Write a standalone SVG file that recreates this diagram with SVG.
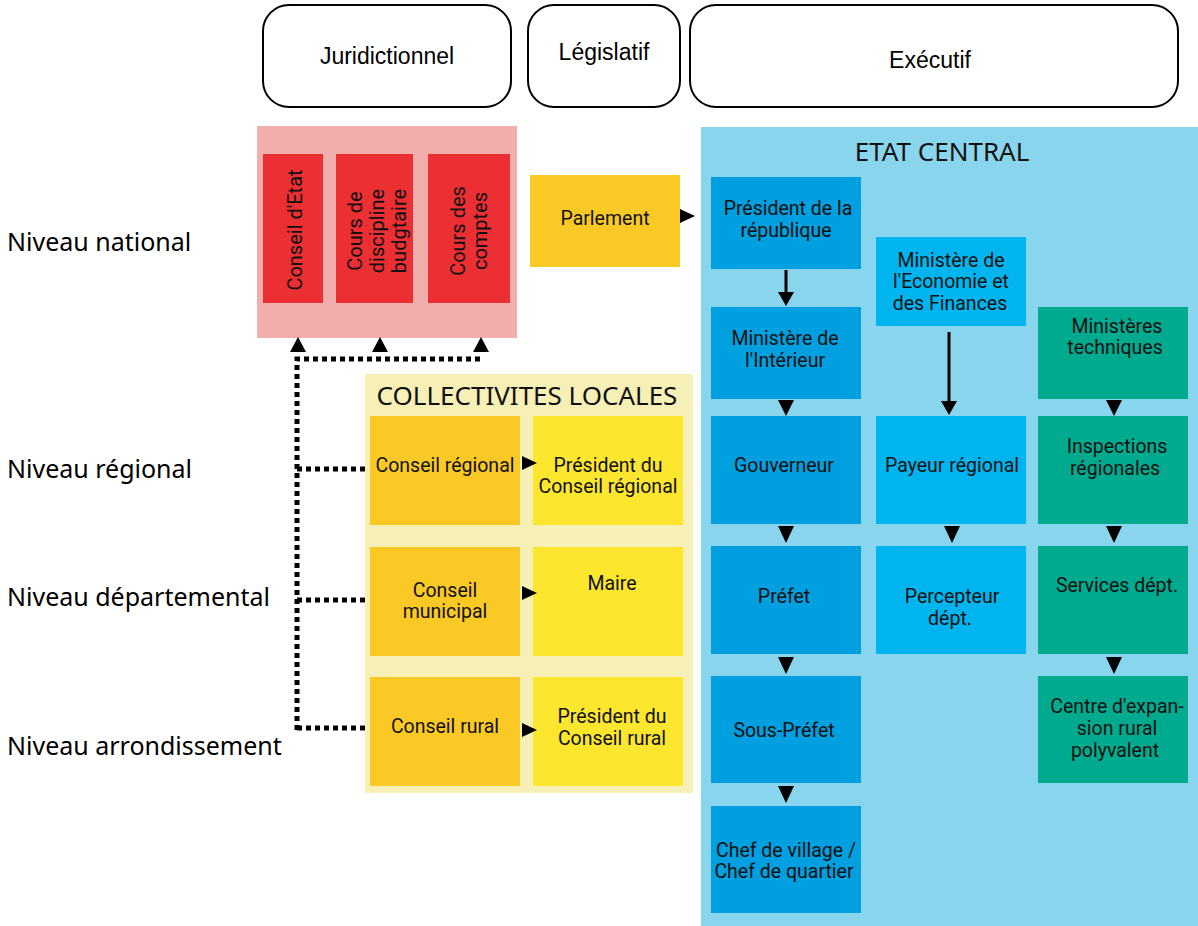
<svg xmlns="http://www.w3.org/2000/svg" width="1198" height="926" viewBox="0 0 1198 926">
<style>
.hdr{fill:#fff;stroke:#000;stroke-width:2}
.ht{font-family:"Liberation Sans",Arial,sans-serif;font-size:23px;fill:#000;text-anchor:middle}
.lvl{font-family:"Noto Sans",sans-serif;font-size:25px;fill:#000}
.ttl{font-family:"Noto Sans",sans-serif;font-size:26px;fill:#111;text-anchor:middle}
.bt{font-family:Roboto,"Noto Sans",sans-serif;font-size:19.5px;fill:#111;text-anchor:middle}
.rt{font-family:Roboto,"Noto Sans",sans-serif;font-size:20px;fill:#111;text-anchor:middle}
.red{fill:#EB2F33}
.ora{fill:#FBC926}
.yel{fill:#FCE62E}
.b1{fill:#009FDF}
.b2{fill:#00B5EF}
.gr{fill:#00AA8E}
.dot{fill:none;stroke:#000;stroke-width:5;stroke-dasharray:5 4}
.tri{fill:#000}
</style>

<!-- header -->
<g id="h-jur"><rect class="hdr" x="263" y="5" width="248" height="102" rx="26"/><text class="ht" x="387" y="64">Juridictionnel</text></g>
<g id="h-leg"><rect class="hdr" x="528" y="5" width="152" height="102" rx="26"/><text class="ht" x="604" y="60">Législatif</text></g>
<g id="h-exe"><rect class="hdr" x="690" y="5" width="488" height="102" rx="26"/><text class="ht" x="930" y="68">Exécutif</text></g>

<!-- level labels -->
<g id="levels">
<text class="lvl" x="7" y="251">Niveau national</text>
<text class="lvl" x="7" y="478">Niveau régional</text>
<text class="lvl" x="7" y="606">Niveau départemental</text>
<text class="lvl" x="7" y="755">Niveau arrondissement</text>
</g>

<!-- backgrounds -->
<rect id="bg-jur" x="257" y="126" width="260" height="212" fill="#F2ADAD"/>
<g id="bg-coll"><rect x="365" y="374" width="328" height="419" fill="#F7F0B6"/><text class="ttl" x="527" y="405">COLLECTIVITES LOCALES</text></g>
<g id="bg-etat"><rect x="701" y="127" width="497" height="799" fill="#8AD5EE"/><text class="ttl" x="942" y="161">ETAT CENTRAL</text></g>

<!-- juridictionnel nodes -->
<g id="n-ce"><rect class="red" x="263" y="154" width="60" height="149"/><text class="rt" transform="rotate(-90 302 230)" x="302" y="230">Conseil d'Etat</text></g>
<g id="n-cdb"><rect class="red" x="336" y="154" width="77" height="149"/><text class="rt" transform="rotate(-90 384 231)" x="384" y="231"><tspan x="384" dy="-22">Cours de</tspan><tspan x="384" dy="22">discipline</tspan><tspan x="384" dy="22">budgtaire</tspan></text></g>
<g id="n-cdc"><rect class="red" x="428" y="154" width="82" height="149"/><text class="rt" transform="rotate(-90 476 231)" x="476" y="231"><tspan x="476" dy="-11">Cours des</tspan><tspan x="476" dy="22">comptes</tspan></text></g>

<!-- legislatif -->
<g id="n-parl"><rect class="ora" x="530" y="175" width="150" height="92"/><text class="bt" x="605" y="225">Parlement</text></g>

<!-- collectivites -->
<g id="n-creg"><rect class="ora" x="370" y="416" width="150" height="109"/><text class="bt" x="445" y="472">Conseil régional</text></g>
<g id="n-pcreg"><rect class="yel" x="533" y="416" width="150" height="109"/><text class="bt" x="608" y="472">Président du<tspan x="608" dy="21">Conseil régional</tspan></text></g>
<g id="n-cmun"><rect class="ora" x="370" y="547" width="150" height="109"/><text class="bt" x="445" y="597">Conseil<tspan x="445" dy="21">municipal</tspan></text></g>
<g id="n-maire"><rect class="yel" x="533" y="547" width="150" height="109"/><text class="bt" x="612" y="590">Maire</text></g>
<g id="n-crur"><rect class="ora" x="370" y="677" width="150" height="109"/><text class="bt" x="445" y="733">Conseil rural</text></g>
<g id="n-pcrur"><rect class="yel" x="533" y="677" width="150" height="109"/><text class="bt" x="612" y="723">Président du<tspan x="612" dy="22">Conseil rural</tspan></text></g>

<!-- etat central col 1 -->
<g id="n-pr"><rect class="b1" x="711" y="177" width="150" height="92"/><text class="bt" x="788" y="215">Président de la<tspan x="786" dy="22">république</tspan></text></g>
<g id="n-mi"><rect class="b1" x="711" y="307" width="150" height="92"/><text class="bt" x="785" y="345">Ministère de<tspan x="785" dy="22">l'Intérieur</tspan></text></g>
<g id="n-gouv"><rect class="b1" x="711" y="416" width="150" height="108"/><text class="bt" x="784" y="472">Gouverneur</text></g>
<g id="n-pref"><rect class="b1" x="711" y="546" width="150" height="108"/><text class="bt" x="784" y="603">Préfet</text></g>
<g id="n-spref"><rect class="b1" x="711" y="676" width="150" height="107"/><text class="bt" x="784" y="737">Sous-Préfet</text></g>
<g id="n-chef"><rect class="b1" x="711" y="806" width="150" height="107"/><text class="bt" x="786" y="857">Chef de village /<tspan x="784" dy="21">Chef de quartier</tspan></text></g>

<!-- col 2 -->
<g id="n-mef"><rect class="b2" x="876" y="237" width="150" height="89"/><text class="bt" x="951" y="267">Ministère de<tspan x="951" dy="21">l'Economie et</tspan><tspan x="950" dy="22">des Finances</tspan></text></g>
<g id="n-pay"><rect class="b2" x="876" y="416" width="150" height="108"/><text class="bt" x="952" y="472">Payeur régional</text></g>
<g id="n-perc"><rect class="b2" x="876" y="546" width="150" height="108"/><text class="bt" x="952" y="603">Percepteur<tspan x="950" dy="22">dépt.</tspan></text></g>

<!-- col 3 -->
<g id="n-mt"><rect class="gr" x="1038" y="307" width="150" height="92"/><text class="bt" x="1117" y="333">Ministères<tspan x="1115" dy="21">techniques</tspan></text></g>
<g id="n-insp"><rect class="gr" x="1038" y="416" width="150" height="108"/><text class="bt" x="1117" y="453">Inspections<tspan x="1115" dy="22">régionales</tspan></text></g>
<g id="n-serv"><rect class="gr" x="1038" y="546" width="150" height="108"/><text class="bt" x="1117" y="592">Services dépt.</text></g>
<g id="n-cerp"><rect class="gr" x="1038" y="676" width="150" height="107"/><text class="bt" x="1117" y="713">Centre d'expan-<tspan x="1117" dy="22">sion rural</tspan><tspan x="1115" dy="22">polyvalent</tspan></text></g>

<!-- connectors -->
<g id="connectors">
<path class="dot" d="M297 730 V359 H484"/>
<path class="dot" d="M297 469 H365 M297 600 H365 M297 728 H365"/>
<polygon class="tri" points="290,352 306,352 298,337"/>
<polygon class="tri" points="372,352 388,352 380,337"/>
<polygon class="tri" points="473,352 489,352 481,337"/>
<polygon class="tri" points="522,456 537,463 522,470"/>
<polygon class="tri" points="522,586 537,593 522,600"/>
<polygon class="tri" points="522,723 537,730 522,737"/>
<polygon class="tri" points="680,209 695,216 680,223"/>
<path d="M786 270 V295" stroke="#000" stroke-width="3"/>
<polygon class="tri" points="778,292 794,292 786,306"/>
<path d="M949 332 V405" stroke="#000" stroke-width="3"/>
<polygon class="tri" points="941,401 957,401 949,415"/>
<polygon class="tri" points="778,400 794,400 786,416"/>
<polygon class="tri" points="778,526 794,526 786,543"/>
<polygon class="tri" points="778,657 794,657 786,674"/>
<polygon class="tri" points="778,786 794,786 786,803"/>
<polygon class="tri" points="944,526 960,526 952,543"/>
<polygon class="tri" points="1106,400 1122,400 1114,416"/>
<polygon class="tri" points="1106,526 1122,526 1114,543"/>
<polygon class="tri" points="1106,657 1122,657 1114,674"/>
</g>
</svg>
